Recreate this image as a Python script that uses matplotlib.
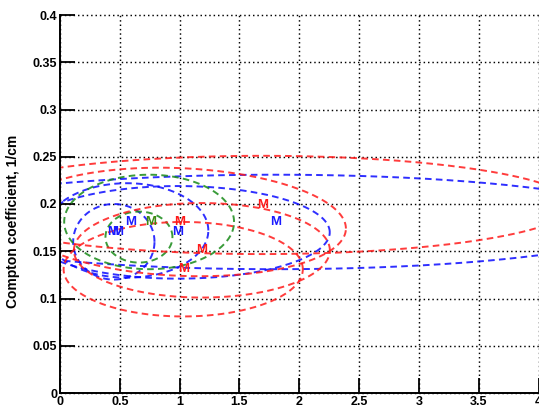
import numpy as np
import matplotlib
matplotlib.use("Agg")
import matplotlib.pyplot as plt

plt.rcParams['font.family'] = ['Liberation Sans', 'DejaVu Sans']
plt.rcParams['font.weight'] = 'bold'

# Axis ticks
x_ticks = [0, 0.5, 1, 1.5, 2, 2.5, 3, 3.5, 4]
x_ticklabels = ['0', '0.5', '1', '1.5', '2', '2.5', '3', '3.5', '4']
y_ticks = [0, 0.05, 0.1, 0.15, 0.2, 0.25, 0.3, 0.35, 0.4]
y_ticklabels = ['0', '0.05', '0.1', '0.15', '0.2', '0.25', '0.3', '0.35', '0.4']

# Uncertainty ellipses: centre (cx, cy), half-widths (a, b), shear (dy/dx)
red_cx = [1.69, 1.00, 1.03, 1.186]
red_cy = [0.199, 0.181, 0.131, 0.151]
red_a = [2.60, 1.39, 1.00, 1.07]
red_b = [0.052, 0.057, 0.050, 0.050]
red_shear = [0.0, -0.005, 0.0, 0.0]

blue_cx = [1.80, 0.985, 0.56, 0.45]
blue_cy = [0.181, 0.170, 0.172, 0.160]
blue_a = [3.10, 1.27, 0.68, 0.34]
blue_b = [0.050, 0.049, 0.050, 0.040]
blue_shear = [0.0, 0.0, 0.0, 0.0]

green_cx = [0.745, 0.66]
green_cy = [0.181, 0.165]
green_a = [0.71, 0.28]
green_b = [0.050, 0.027]
green_shear = [0.0, 0.0]

# Estimate markers ("M")
red_mx = [1.69, 1.00, 1.186, 1.03]
red_my = [0.199, 0.181, 0.151, 0.131]
blue_mx = [1.80, 0.594, 0.985, 0.44, 0.48]
blue_my = [0.181, 0.181, 0.170, 0.170, 0.170]
green_mx = [0.76]
green_my = [0.181]

fig = plt.figure(figsize=(5.39, 4.13), dpi=100)
ax = fig.add_axes([60 / 539, 20 / 413, 478.5 / 539, 378 / 413])

ax.set_xlim(0, 4)
ax.set_ylim(0, 0.4)
ax.set_xticks(x_ticks)
ax.set_xticklabels(x_ticklabels)
ax.set_yticks(y_ticks)
ax.set_yticklabels(y_ticklabels)

ax.grid(True, color='k', linestyle=(0, (1.0, 2.0)), linewidth=1.05)
for gl in ax.get_xgridlines() + ax.get_ygridlines():
    gl.set_clip_on(False)

for side in ('top', 'right'):
    ax.spines[side].set_visible(False)
for side in ('left', 'bottom'):
    ax.spines[side].set_linewidth(1.4)
ax.tick_params(direction='in', length=11, width=1.3, top=False, right=False,
               labelsize=9, pad=2)

t = np.linspace(0, 2 * np.pi, 400)
dash = (0, (3.4, 2.2))


def draw_group(cxs, cys, as_, bs, shears, color):
    for cx, cy, a, b, s in zip(cxs, cys, as_, bs, shears):
        dx = a * np.cos(t)
        ax.plot(cx + dx, cy + b * np.sin(t) + s * dx, color=color,
                linestyle=dash, linewidth=1.4, alpha=0.85)


draw_group(blue_cx, blue_cy, blue_a, blue_b, blue_shear, '#0a0aff')
draw_group(green_cx, green_cy, green_a, green_b, green_shear, '#178a17')
draw_group(red_cx, red_cy, red_a, red_b, red_shear, '#ff1a1a')

for xs, ys, color in ((green_mx, green_my, '#3c8a10'),
                      (blue_mx, blue_my, '#1a1aff'),
                      (red_mx, red_my, '#ff1a1a')):
    for x, y in zip(xs, ys):
        ax.text(x, y, 'M', color=color, fontsize=9.5, fontweight='bold',
                ha='center', va='center')

ax.set_ylabel('Compton coefficient, 1/cm', fontsize=10, fontweight='bold')
ax.yaxis.set_label_coords(-0.083, 0.455)

fig.savefig('out.png', dpi=100)
